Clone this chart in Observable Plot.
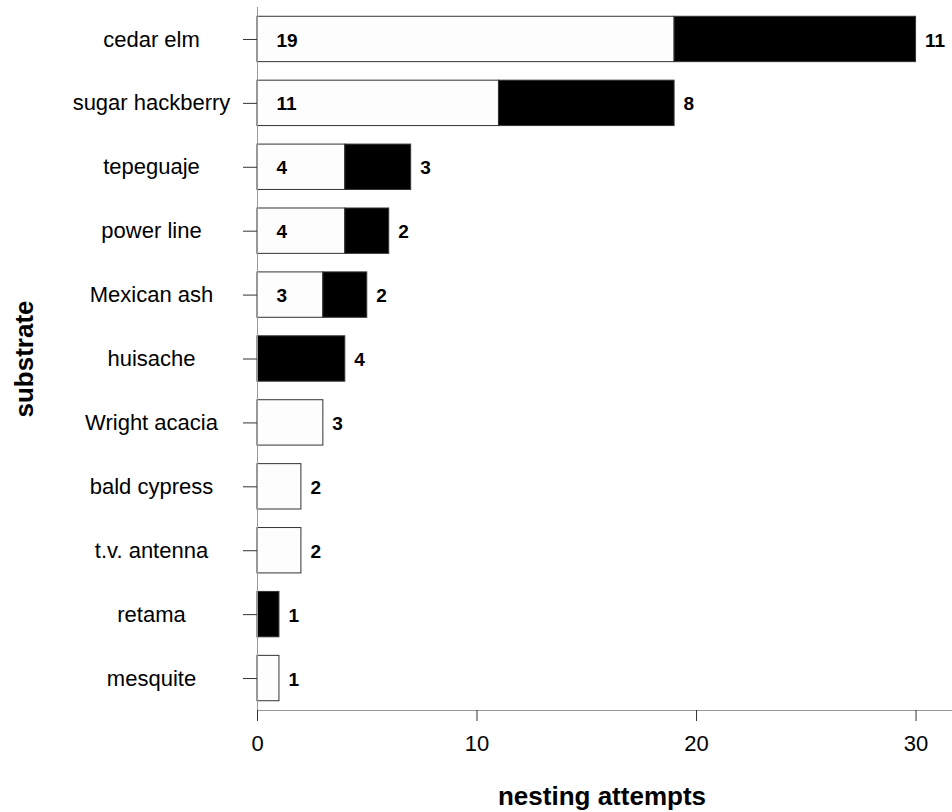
<!DOCTYPE html>
<html>
<head>
<meta charset="utf-8">
<script src="https://cdn.jsdelivr.net/npm/d3@7"></script>
<script src="https://cdn.jsdelivr.net/npm/@observablehq/plot@0.6"></script>
<style>
  html, body { margin: 0; padding: 0; background: #fff; }
  #chart svg { display: block; }
</style>
</head>
<body>
<div id="chart"></div>
<script>
// Nest substrates, top to bottom
const substrates = [
  "cedar elm", "sugar hackberry", "tepeguaje", "power line", "Mexican ash",
  "huisache", "Wright acacia", "bald cypress", "t.v. antenna", "retama", "mesquite"
];
// Nesting attempts per substrate: open (white) and filled (black) segments
const whiteCounts = [19, 11, 4, 4, 3, 0, 3, 2, 2, 0, 1];
const blackCounts = [11, 8, 3, 2, 2, 4, 0, 0, 0, 1, 0];
const xTicks = [0, 10, 20, 30];

const rows = substrates.map((s, i) => ({
  substrate: s,
  white: whiteCounts[i],
  black: blackCounts[i],
  total: whiteCounts[i] + blackCounts[i]
}));

const font = "'Liberation Sans', Arial, Helvetica, sans-serif";

const chart = Plot.plot({
  width: 952,
  height: 812,
  marginLeft: 257,
  marginRight: 0,
  marginTop: 7,
  marginBottom: 102,
  style: { fontFamily: font, fontSize: "22px", background: "#fff", color: "#000" },
  x: { domain: [0, 31.66], ticks: xTicks },
  y: { domain: substrates, paddingInner: 0.29, paddingOuter: 0.145, round: false },
  marks: [
    // white segments
    Plot.barX(rows.filter(d => d.white > 0), {
      y: "substrate", x1: 0, x2: "white",
      fill: "#fdfdfd", stroke: "#333", strokeWidth: 1
    }),
    // black segments, stacked after the white ones
    Plot.barX(rows.filter(d => d.black > 0), {
      y: "substrate", x1: "white", x2: "total",
      fill: "#000", stroke: "#333", strokeWidth: 1
    }),
    // axis lines
    Plot.frame({ anchor: "left", stroke: "#999" }),
    Plot.frame({ anchor: "bottom", stroke: "#999" }),
    Plot.axisY({
      tickSize: 14, tickPadding: 92, textAnchor: "middle",
      fontSize: 22, label: null, stroke: "#333"
    }),
    Plot.axisX({
      ticks: xTicks, tickSize: 11, tickPadding: 14,
      fontSize: 22, label: null, stroke: "#333"
    }),
    // count inside the white segment when both segments are present
    Plot.text(rows.filter(d => d.white > 0 && d.black > 0), {
      y: "substrate", x: 0, text: d => String(d.white),
      textAnchor: "start", dx: 19, dy: 1,
      fontSize: 19, fontWeight: "bold", fill: "#000"
    }),
    // count at the end of each bar
    Plot.text(rows, {
      y: "substrate", x: "total", text: d => String(d.black > 0 ? d.black : d.white),
      textAnchor: "start", dx: 9, dy: 1,
      fontSize: 19, fontWeight: "bold", fill: "#000"
    }),
    // axis titles
    Plot.text(["nesting attempts"], {
      frameAnchor: "bottom", dy: 86, dx: -3,
      textAnchor: "middle", lineAnchor: "middle",
      fontSize: 26, fontWeight: "bold", fill: "#000"
    }),
    Plot.text(["substrate"], {
      frameAnchor: "left", dx: -233, rotate: -90,
      textAnchor: "middle", lineAnchor: "middle",
      fontSize: 26, fontWeight: "bold", fill: "#000"
    })
  ]
});

document.getElementById("chart").appendChild(chart);
</script>
</body>
</html>
